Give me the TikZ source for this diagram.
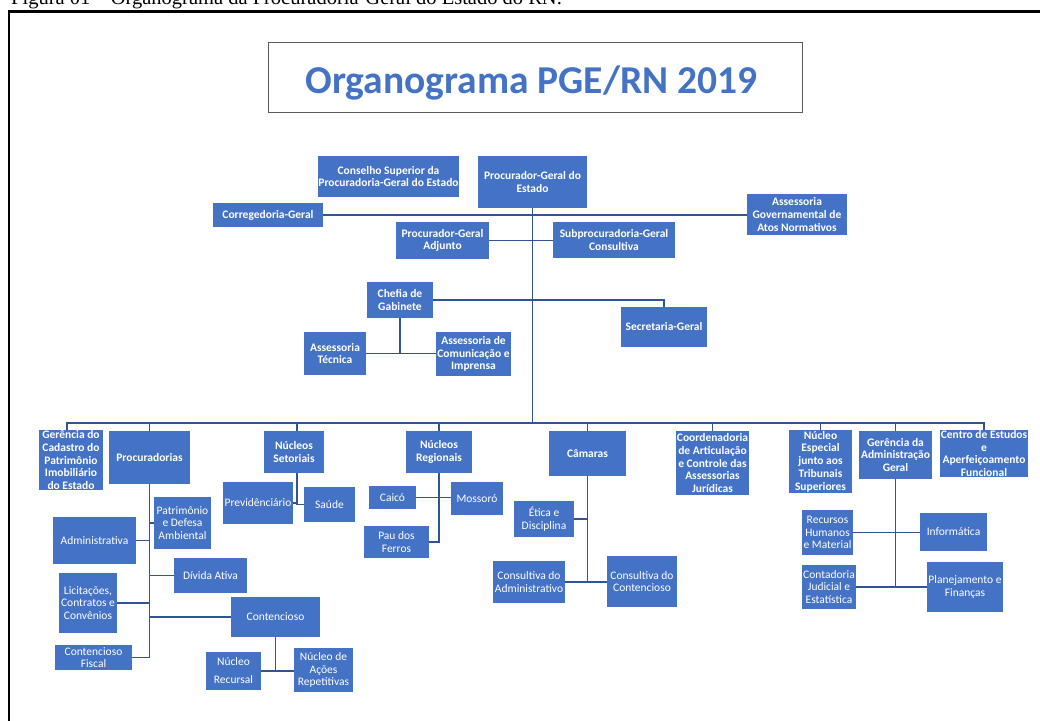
\documentclass[tikz,border=0pt]{standalone}
\usepackage{fontspec}
\setmainfont{Carlito}
\newfontfamily\capfont{Liberation Serif}
\usetikzlibrary{backgrounds}
\definecolor{boxblue}{HTML}{4472C4}
\definecolor{lineblue}{HTML}{2F5597}
\definecolor{titleblue}{HTML}{4472C4}
\begin{document}
\begin{tikzpicture}[x=1pt,y=-1pt,
  orgbox/.style={fill=boxblue, text=white, font=\bfseries\fontsize{11.5}{12.7}\selectfont, align=center, inner sep=0pt},
  subbox/.style={orgbox, font=\mdseries\fontsize{11.5}{12.5}\selectfont},
  conn/.style={draw=lineblue, line width=1.8pt, line cap=rect}]
\useasboundingbox (0,0) rectangle (1040,720);
\clip (0,0) rectangle (1040,720);
% caption and frame
\node[anchor=base west, inner sep=0pt, font=\capfont\fontsize{20.5}{24}\selectfont] (cap) at (11,5) {Figura 01 – Organograma da Procuradoria-Geral do Estado do RN.};
\coordinate (frTR) at (1045,11.5);
\coordinate (frTL) at (9,11.5);
\coordinate (frBL) at (9,725);
\draw[line width=2.5pt] (frTR) -- (frTL) -- (frBL);
% title
\node[draw=black!65, line width=0.9pt, minimum width=534, minimum height=70, inner sep=0pt] (title) at (535,77) {};
\node[anchor=base, inner sep=0pt, text=titleblue, font=\bfseries\fontsize{39.5}{45}\selectfont] (titletext) at (531.5,93) {Organograma PGE/RN 2019};
% top level
\node[orgbox, minimum width=141, minimum height=41] (cons) at (388.5,176.5) {Conselho Superior da\\Procuradoria-Geral do Estado};
\node[orgbox, minimum width=109, minimum height=52] (pge) at (532.5,182) {Procurador-Geral do\\Estado};
\node[orgbox, minimum width=110, minimum height=24] (corr) at (268,215) {Corregedoria-Geral};
\node[orgbox, minimum width=100, minimum height=41] (agov) at (797,214.5) {Assessoria\\Governamental de\\Atos Normativos};
\node[orgbox, minimum width=93, minimum height=37] (adj) at (442.5,240.5) {Procurador-Geral\\Adjunto};
\node[orgbox, minimum width=122, minimum height=36] (sub) at (614,240) {Subprocuradoria-Geral\\Consultiva};
\node[orgbox, minimum width=66, minimum height=36] (chef) at (400,300) {Chefia de\\Gabinete};
\node[orgbox, minimum width=86, minimum height=40] (sec) at (664,327) {Secretaria-Geral};
\node[orgbox, minimum width=62, minimum height=43] (atec) at (335,353.5) {Assessoria\\Técnica};
\node[orgbox, minimum width=75, minimum height=44] (acom) at (473.5,354) {Assessoria de\\Comunicação e\\Imprensa};
% bottom row
\node[orgbox, minimum width=64, minimum height=60] (gcad) at (71,460) {Gerência do\\Cadastro do\\Patrimônio\\Imobiliário\\do Estado};
\node[orgbox, minimum width=81, minimum height=53] (proc) at (149.5,457.5) {Procuradorias};
\node[orgbox, minimum width=60, minimum height=42] (nset) at (294,452) {Núcleos\\Setoriais};
\node[orgbox, minimum width=66, minimum height=42] (nreg) at (439,452) {Núcleos\\Regionais};
\node[orgbox, minimum width=77, minimum height=45] (cam) at (587.5,453.5) {Câmaras};
\node[orgbox, minimum width=73, minimum height=64] (coord) at (712.5,463) {Coordenadoria\\de Articulação\\e Controle das\\Assessorias\\Jurídicas};
\node[orgbox, minimum width=63, minimum height=63] (nesp) at (820.5,461.5) {Núcleo\\Especial\\junto aos\\Tribunais\\Superiores};
\node[orgbox, minimum width=73, minimum height=48] (gadm) at (895.5,455) {Gerência da\\Administração\\Geral};
\node[orgbox, minimum width=88, minimum height=47] (cest) at (984,453.5) {Centro de Estudos\\e\\Aperfeiçoamento\\Funcional};
% sub items
\node[subbox, minimum width=70, minimum height=42] (prev) at (258,503) {Previdênciário};
\node[subbox, minimum width=51, minimum height=35] (saude) at (329.5,504.5) {Saúde};
\node[subbox, minimum width=57, minimum height=52] (pat) at (182.5,523) {Patrimônio\\e Defesa\\Ambiental};
\node[subbox, minimum width=83, minimum height=47] (adm) at (94.5,540.5) {Administrativa};
\node[subbox, minimum width=73, minimum height=35] (div) at (210.5,575.5) {Dívida Ativa};
\node[subbox, minimum width=58, minimum height=60] (lic) at (88,603) {Licitações,\\Contratos e\\Convênios};
\node[subbox, minimum width=89, minimum height=40] (cont) at (275.5,617) {Contencioso};
\node[subbox, minimum width=77, minimum height=25] (cfis) at (93.5,657.5) {Contencioso\\Fiscal};
\node[subbox, minimum width=55, minimum height=38] (nrec) at (233.5,671) {Núcleo\\[5.5pt]Recursal};
\node[subbox, minimum width=59, minimum height=44] (nac) at (323.5,670) {Núcleo de\\Ações\\Repetitivas};
\node[subbox, minimum width=47, minimum height=23] (caico) at (392.5,497.5) {Caicó};
\node[subbox, minimum width=52, minimum height=33] (moss) at (477,498.5) {Mossoró};
\node[subbox, minimum width=65, minimum height=32] (pau) at (396.5,542) {Pau dos\\Ferros};
\node[subbox, minimum width=60, minimum height=36] (etica) at (544,519) {Ética e\\Disciplina};
\node[subbox, minimum width=72, minimum height=42] (cadm) at (529,582) {Consultiva do\\Administrativo};
\node[subbox, minimum width=70, minimum height=51] (ccont) at (642,581.5) {Consultiva do\\Contencioso};
\node[subbox, minimum width=51, minimum height=45] (rh) at (827.5,532.5) {Recursos\\Humanos\\e Material};
\node[subbox, minimum width=67, minimum height=38] (inf) at (953.5,532) {Informática};
\node[subbox, minimum width=54, minimum height=44] (ctd) at (829,587) {Contadoria\\Judicial e\\Estatística};
\node[subbox, minimum width=76, minimum height=50] (plan) at (965,587) {Planejamento e\\Finanças};
% connectors
\coordinate (busC) at (532.5,423);
\coordinate (busL) at (67,423);
\coordinate (busR) at (984,423);
\coordinate (nsetS) at ([xshift=3pt]nset.south);
\coordinate (nsetN) at ([xshift=3pt]nset.north);
\begin{scope}[on background layer]
\draw[conn] (pge.south) -- (busC);
\draw[conn] (corr.east) -- (agov.west |- corr.east);
\draw[conn] (adj.east) -- (sub.west |- adj.east);
\draw[conn] (chef.east) -| (sec.north);
\draw[conn] (chef.south) -- (chef.south |- atec.east);
\draw[conn] (atec.east) -- (acom.west |- atec.east);
\draw[conn] (busL) -- (busR);
\draw[conn] (busL) -- (busL |- gcad.north);
\draw[conn] (nsetN) -- (nsetN |- busL);
\foreach \n in {proc,nreg,cam,coord,nesp,gadm,cest} {\draw[conn] (\n.north) -- (\n.north |- busL);}
% procuradorias
\draw[conn] (proc.south) -- (proc.south |- cfis.east);
\draw[conn] (cfis.east) -- (cfis.east -| proc.south);
\draw[conn] (pat.west) -- (pat.west -| proc.south);
\draw[conn] (adm.east) -- (adm.east -| proc.south);
\draw[conn] (div.west) -- (div.west -| proc.south);
\draw[conn] (lic.east) -- (lic.east -| proc.south);
\draw[conn] (cont.west) -- (cont.west -| proc.south);
\draw[conn] (cont.south) -- (cont.south |- nrec.east);
\draw[conn] (nrec.east) -- (nac.west |- nrec.east);
% nucleos setoriais
\draw[conn] (nsetS) -- (nsetS |- saude.west) -- (saude.west);
\draw[conn] (prev.east) -- (prev.east -| nsetS);
% nucleos regionais
\draw[conn] (nreg.south) |- (pau.east);
\draw[conn] (caico.east) -- (moss.west |- caico.east);
% camaras
\draw[conn] (cam.south) -- (cam.south |- cadm.east);
\draw[conn] (etica.east) -- (etica.east -| cam.south);
\draw[conn] (cadm.east) -- (ccont.west |- cadm.east);
% gerencia adm
\draw[conn] (gadm.south) -- (gadm.south |- ctd.east);
\draw[conn] (rh.east) -- (inf.west |- rh.east);
\draw[conn] (ctd.east) -- (plan.west |- ctd.east);
\end{scope}
\end{tikzpicture}
\end{document}
